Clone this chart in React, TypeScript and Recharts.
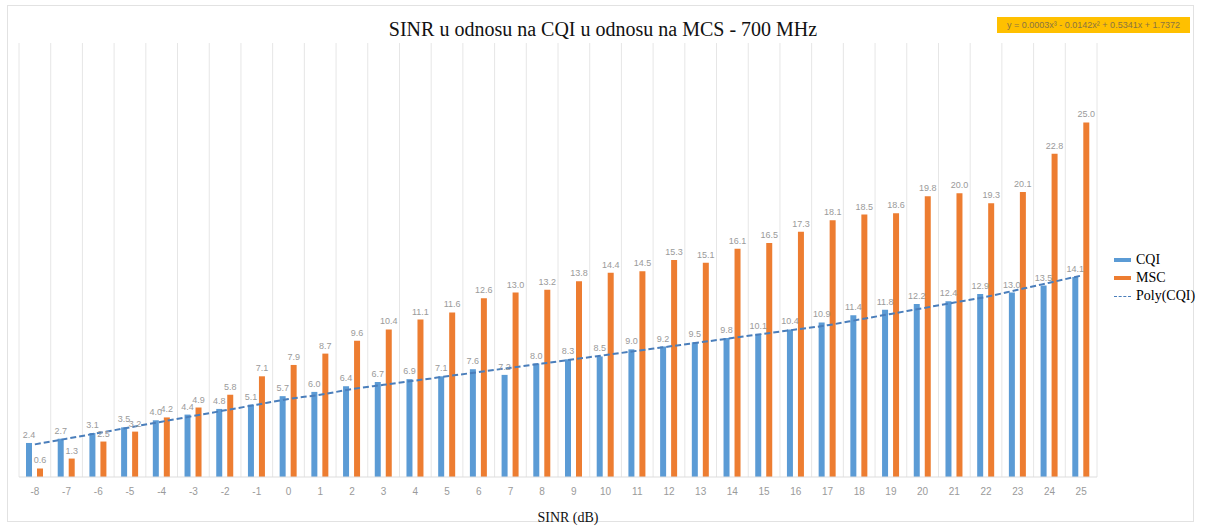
import React from 'react';
import { ComposedChart, Bar, Line, XAxis, YAxis, CartesianGrid, LabelList } from 'recharts';

const sinr = ['-8', '-7', '-6', '-5', '-4', '-3', '-2', '-1', '0', '1', '2', '3', '4', '5', '6', '7', '8', '9', '10', '11', '12', '13', '14', '15', '16', '17', '18', '19', '20', '21', '22', '23', '24', '25'];
const cqi = [2.4, 2.7, 3.1, 3.5, 4.0, 4.4, 4.8, 5.1, 5.7, 6.0, 6.4, 6.7, 6.9, 7.1, 7.6, 7.2, 8.0, 8.3, 8.5, 9.0, 9.2, 9.5, 9.8, 10.1, 10.4, 10.9, 11.4, 11.8, 12.2, 12.4, 12.9, 13.0, 13.5, 14.1];
const msc = [0.6, 1.3, 2.5, 3.2, 4.2, 4.9, 5.8, 7.1, 7.9, 8.7, 9.6, 10.4, 11.1, 11.6, 12.6, 13.0, 13.2, 13.8, 14.4, 14.5, 15.3, 15.1, 16.1, 16.5, 17.3, 18.1, 18.5, 18.6, 19.8, 20.0, 19.3, 20.1, 22.8, 25.0];
const trend = [2.3, 2.7, 3.1, 3.5, 3.9, 4.3, 4.7, 5.1, 5.5, 5.8, 6.2, 6.5, 6.8, 7.1, 7.4, 7.7, 8.0, 8.3, 8.6, 8.9, 9.2, 9.5, 9.8, 10.1, 10.4, 10.7, 11.1, 11.5, 11.9, 12.3, 12.7, 13.2, 13.7, 14.2];

const title = 'SINR u odnosu na CQI u odnosu na MCS - 700 MHz';
const equation = 'y = 0.0003x³ - 0.0142x² + 0.5341x + 1.7372';
const xLabel = 'SINR (dB)';
const legendNames = ['CQI', 'MSC', 'Poly(CQI)'];

const data = sinr.map((s, i) => ({ sinr: s, cqi: cqi[i], msc: msc[i], trend: trend[i] }));

const BLUE = '#5B9BD5';
const ORANGE = '#ED7D31';
const TREND = '#4A7EBB';
const SERIF = '"Liberation Serif", "Times New Roman", serif';
const SANS = '"Liberation Sans", Arial, sans-serif';

const fmt = (v: any) => Number(v).toFixed(1);

export default function App() {
  return (
    <div style={{ position: 'absolute', left: 0, top: 0, width: 1216, height: 528, background: '#fff', overflow: 'hidden' }}>
      <div style={{ position: 'absolute', left: 7, top: 5, width: 1187, height: 517, border: '1px solid #e2e2e2', boxSizing: 'border-box' }} />
      <ComposedChart
        width={1216}
        height={528}
        data={data}
        margin={{ top: 43, right: 119, left: 19, bottom: 0 }}
        barSize={6}
        barGap={5}
        style={{ position: 'absolute', left: 0, top: 0 }}
      >
        <CartesianGrid
          horizontal={false}
          stroke="#e6e6e6"
          verticalCoordinatesGenerator={({ offset }: any) =>
            [...sinr.map((_, i) => offset.left + (i * offset.width) / sinr.length), offset.left + offset.width]
          }
        />
        <XAxis
          dataKey="sinr"
          height={51}
          tickLine={false}
          axisLine={{ stroke: '#dddddd' }}
          tick={{ fontSize: 10, fill: '#9a9a9a', fontFamily: SANS }}
          tickMargin={5}
          interval={0}
        />
        <YAxis hide domain={[0, 30.6]} />
        <Bar dataKey="cqi" name="CQI" fill={BLUE} isAnimationActive={false}>
          <LabelList dataKey="cqi" position="top" offset={5} formatter={fmt} fontSize={9} fill="#9a9a9a" fontFamily={SANS} />
        </Bar>
        <Bar dataKey="msc" name="MSC" fill={ORANGE} isAnimationActive={false}>
          <LabelList dataKey="msc" position="top" offset={5} formatter={fmt} fontSize={9} fill="#9a9a9a" fontFamily={SANS} />
        </Bar>
        <Line dataKey="trend" name="Poly(CQI)" type="monotone" stroke={TREND} strokeWidth={2} strokeDasharray="6 3" dot={false} activeDot={false} isAnimationActive={false} />
      </ComposedChart>
      <div style={{ position: 'absolute', left: 0, top: 18, width: 1206, textAlign: 'center', fontFamily: SERIF, fontSize: 20, color: '#111' }}>
        {title}
      </div>
      <div style={{ position: 'absolute', left: 997, top: 17, width: 193, height: 16, background: '#FFC000', fontFamily: SANS, fontSize: 9, color: '#8a7440', lineHeight: '16px', textAlign: 'center', whiteSpace: 'nowrap' }}>
        {equation}
      </div>
      <div style={{ position: 'absolute', left: 528, top: 510, width: 80, textAlign: 'center', fontFamily: SERIF, fontSize: 14, color: '#111', lineHeight: '16px' }}>
        {xLabel}
      </div>
      <div style={{ position: 'absolute', left: 1114, top: 251, fontFamily: SERIF, fontSize: 14, color: '#000', lineHeight: '18px' }}>
        <div style={{ display: 'flex', alignItems: 'center' }}>
          <span style={{ display: 'inline-block', width: 17, height: 4, background: BLUE, marginRight: 5 }} />
          {legendNames[0]}
        </div>
        <div style={{ display: 'flex', alignItems: 'center' }}>
          <span style={{ display: 'inline-block', width: 17, height: 4, background: ORANGE, marginRight: 5 }} />
          {legendNames[1]}
        </div>
        <div style={{ display: 'flex', alignItems: 'center' }}>
          <span style={{ display: 'inline-block', width: 17, height: 0, borderTop: `1.5px dashed ${TREND}`, marginRight: 5 }} />
          {legendNames[2]}
        </div>
      </div>
    </div>
  );
}
